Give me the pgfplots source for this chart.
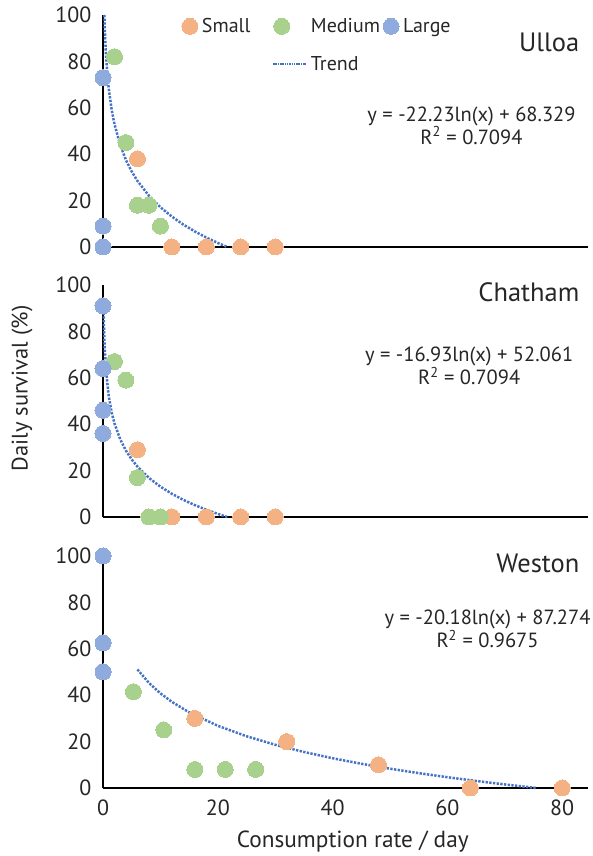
\documentclass[border=0pt]{standalone}
\usepackage{pgfplots}
\pgfplotsset{compat=1.18}
\usepackage{fontspec}
\setmainfont{PT Sans}
\definecolor{cSmall}{HTML}{F4B183}
\definecolor{cMed}{HTML}{A9D18E}
\definecolor{cLarge}{HTML}{8FAADC}
\definecolor{cTrend}{HTML}{4472C4}
\definecolor{txt}{HTML}{262626}
\newcommand{\fsz}[1]{\fontsize{#1}{#1}\selectfont}
\tikzset{
  ttl/.style={font=\fsz{26.5}, text=txt, anchor=east},
  eq/.style={font=\fontsize{20.5}{23}\selectfont, text=txt, align=center},
}
\pgfplotsset{
  panel/.style={
    scale only axis, width=485pt, height=232pt,
    xmin=0, xmax=84.5, ymin=0, ymax=100,
    axis x line=bottom, axis y line=left,
    axis line style={-, line width=1.8pt, black},
    ytick={0,20,...,100}, major tick length=0pt,
    tick label style={font=\fsz{22}, text=txt},
    /pgf/number format/assume math mode=true,
    yticklabel style={xshift=-8pt},
    xticklabel style={yshift=-8pt},
    clip=false, anchor=south west,
  },
  sm/.style={only marks, color=cSmall, mark=*, mark size=8pt, mark options={draw=cSmall, fill=cSmall, line width=0pt}},
  md/.style={only marks, color=cMed, mark=*, mark size=8pt, mark options={draw=cMed, fill=cMed, line width=0pt}},
  lg/.style={only marks, color=cLarge, mark=*, mark size=8pt, mark options={draw=cLarge, fill=cLarge, line width=0pt}},
  trend/.style={no marks, cTrend, line width=2.5pt, dash pattern=on 2.3pt off 1.4pt,
    legend image code/.code={\draw[##1, line width=1.6pt, dash pattern=on 1.5pt off 0.8pt] (0pt,0pt) -- (33pt,0pt);}},
}
\begin{document}
\begin{tikzpicture}
\useasboundingbox (0,0) rectangle (592pt,856pt);
% ---------------- Ulloa ----------------
\begin{axis}[panel, at={(103pt,609pt)}, xtick=\empty,
  legend style={at={(rel axis cs:0.155,1.003)}, anchor=north west, draw=none, fill=none,
    font=\fsz{20}, text=txt, legend columns=3, row sep=18pt,
    /tikz/every odd column/.append style={column sep=2pt},
    /tikz/column 2/.style={column sep=20pt},
    /tikz/column 4/.style={column sep=1pt}},
  legend cell align=left]
\addplot[sm] coordinates {(6,38) (12,0) (18,0) (24,0) (30,0)};
\addlegendentry{Small}
\addplot[md] coordinates {(2,82) (4,45) (6,18) (8,18) (10,9)};
\addlegendentry{Medium}
\addplot[lg] coordinates {(0,73) (0,9) (0,0)};
\addlegendentry{Large}
\addlegendimage{empty legend}
\addlegendentry{}
\addplot[trend] coordinates {
(0.24,100.0) (0.3,95.09) (0.4,88.70) (0.5,83.74) (0.75,74.72) (1,68.33) (1.5,59.31) (2,52.92)
(3,43.91) (4,37.51) (5,32.55) (6,28.50) (8,22.10) (10,17.14) (12,13.09)
(14,9.66) (16,6.70) (18,4.08) (20,1.74) (21.65,0)};
\addlegendentry{Trend}
\node[ttl] at (axis cs:83.6,88) {Ulloa};
\node[eq] at (axis cs:64.2,52.3) {y = -22.23ln(x) + 68.329\\R\textsuperscript{2} = 0.7094};
\end{axis}
% ---------------- Chatham ----------------
\begin{axis}[panel, at={(103pt,339pt)}, xtick=\empty,
  ylabel={Daily survival (\%)},
  ylabel style={at={(axis description cs:-0.167,0.554)}, anchor=center, font=\fsz{22.5}, text=txt}]
\addplot[sm] coordinates {(6,29) (12,0) (18,0) (24,0) (30,0)};
\addplot[md] coordinates {(2,67) (4,59) (6,17) (8,0) (10,0)};
\addplot[lg] coordinates {(0,91) (0,64) (0,46) (0,36)};
\addplot[trend] coordinates {
(0.09,92.83) (0.15,84.18) (0.25,75.53) (0.5,63.80) (1,52.06) (1.5,45.20) (2,40.33)
(3,33.46) (4,28.59) (5,24.81) (6,21.73) (8,16.86) (10,13.08) (12,9.99)
(14,7.38) (16,5.12) (18,3.13) (20,1.34) (21.65,0)};
\node[ttl] at (axis cs:83.6,97) {Chatham};
\node[eq] at (axis cs:63.8,65) {y = -16.93ln(x) + 52.061\\R\textsuperscript{2} = 0.7094};
\end{axis}
% ---------------- Weston ----------------
\begin{axis}[panel, at={(103pt,68pt)}, xtick={0,20,40,60,80},
  xlabel={Consumption rate / day},
  xlabel style={at={(axis description cs:0.515,-0.233)}, anchor=center, font=\fsz{23.3}, text=txt}]
\addplot[sm] coordinates {(16,30) (32,20) (48,10) (64,0) (80,0)};
\addplot[md] coordinates {(5.3,41.5) (10.6,25) (16,8) (21.3,8) (26.6,8)};
\addplot[lg] coordinates {(0,100) (0,62.5) (0,50)};
\addplot[trend] coordinates {
(6,51.11) (8,45.31) (10,40.81) (12,37.13) (15,32.62) (20,26.82) (25,22.31)
(30,18.64) (35,15.53) (40,12.83) (45,10.45) (50,8.33) (55,6.41) (60,4.65)
(65,3.03) (70,1.54) (75.5,0)};
\node[ttl] at (axis cs:83.6,97) {Weston};
\node[eq] at (axis cs:67,68.5) {y = -20.18ln(x) + 87.274\\R\textsuperscript{2} = 0.9675};
\end{axis}
\end{tikzpicture}
\end{document}
